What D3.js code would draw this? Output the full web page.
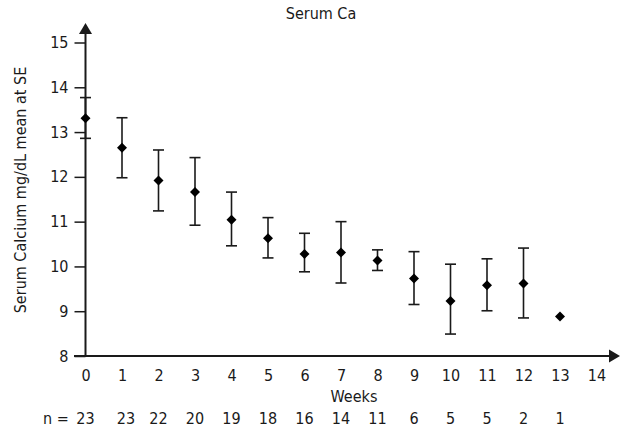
<!DOCTYPE html>
<html>
<head>
<meta charset="utf-8">
<script src="https://cdn.jsdelivr.net/npm/d3@7"></script>
<style>
  body { margin: 0; background: #fff; }
  svg text { font-family: "Liberation Sans Narrow", "DejaVu Sans Condensed", sans-serif; fill: #1a1a1a; }
</style>
</head>
<body>
<svg id="chart"></svg>
<script>
// weeks, mean serum Ca and the ends of the SE bars
const weeks = [0, 1, 2, 3, 4, 5, 6, 7, 8, 9, 10, 11, 12, 13];
const means = [13.31, 12.65, 11.92, 11.66, 11.04, 10.63, 10.28, 10.31, 10.13, 9.73, 9.23, 9.58, 9.62, 8.88];
const upper = [13.77, 13.32, 12.60, 12.43, 11.66, 11.09, 10.74, 11.00, 10.37, 10.33, 10.05, 10.17, 10.41, null];
const lower = [12.86, 11.98, 11.24, 10.92, 10.46, 10.19, 9.88, 9.63, 9.91, 9.15, 8.49, 9.01, 8.85, null];
const nCounts = [23, 23, 22, 20, 19, 18, 16, 14, 11, 6, 5, 5, 2, 1];
const xTicks = [0, 1, 2, 3, 4, 5, 6, 7, 8, 9, 10, 11, 12, 13, 14];
const yTicks = [8, 9, 10, 11, 12, 13, 14, 15];

const width = 620;
const height = 427;
const ink = '#1a1a1a';

const svg = d3.select('#chart')
    .attr('width', width)
    .attr('height', height);

const x = d3.scaleLinear().domain([0, 14]).range([85.5, 596.5]);
const y = d3.scaleLinear().domain([8, 15]).range([356, 42.5]);

// y axis
const yAxis = svg.append('g')
    .attr('transform', 'translate(' + x(0) + ',0)')
    .call(d3.axisLeft(y).tickValues(yTicks).tickFormat(d3.format('d'))
        .tickSize(11).tickSizeOuter(0).tickPadding(6));
yAxis.select('.domain').remove();
yAxis.selectAll('line').attr('stroke', ink).attr('stroke-width', 1.5);
yAxis.selectAll('text').style('font-size', '16px');

// x axis, labels only
const xAxis = svg.append('g')
    .attr('transform', 'translate(0,' + y(8) + ')')
    .call(d3.axisBottom(x).tickValues(xTicks).tickSize(0).tickPadding(14));
xAxis.select('.domain').remove();
xAxis.selectAll('text').style('font-size', '16px');

// axis lines with arrow heads
svg.append('line')
    .attr('x1', x(0)).attr('y1', y(8))
    .attr('x2', x(0)).attr('y2', 34)
    .attr('stroke', ink).attr('stroke-width', 2);
svg.append('path')
    .attr('d', d3.line()([[x(0) - 6.5, 34], [x(0), 23], [x(0) + 6.5, 34]]))
    .attr('fill', ink);
svg.append('line')
    .attr('x1', 74).attr('y1', y(8))
    .attr('x2', 610).attr('y2', y(8))
    .attr('stroke', ink).attr('stroke-width', 2);
svg.append('path')
    .attr('d', d3.line()([[609, y(8) - 6.5], [620, y(8)], [609, y(8) + 6.5]]))
    .attr('fill', ink);

// error bars
const bars = weeks.map((w, i) => ({w: w, hi: upper[i], lo: lower[i]}))
    .filter((d) => d.hi !== null);
const eb = svg.append('g').attr('stroke', ink).attr('stroke-width', 1.6);
eb.selectAll('.stem')
    .data(bars)
    .enter().append('line')
    .attr('x1', (d) => x(d.w)).attr('x2', (d) => x(d.w))
    .attr('y1', (d) => y(d.hi)).attr('y2', (d) => y(d.lo));
eb.selectAll('.capHi')
    .data(bars)
    .enter().append('line')
    .attr('x1', (d) => x(d.w) - 5.5).attr('x2', (d) => x(d.w) + 5.5)
    .attr('y1', (d) => y(d.hi)).attr('y2', (d) => y(d.hi));
eb.selectAll('.capLo')
    .data(bars)
    .enter().append('line')
    .attr('x1', (d) => x(d.w) - 5.5).attr('x2', (d) => x(d.w) + 5.5)
    .attr('y1', (d) => y(d.lo)).attr('y2', (d) => y(d.lo));

// mean markers
svg.selectAll('.pt')
    .data(weeks)
    .enter().append('path')
    .attr('class', 'pt')
    .attr('d', d3.symbol(d3.symbolDiamond2, 64))
    .attr('transform', (w, i) => 'translate(' + x(w) + ',' + y(means[i]) + ')')
    .attr('fill', '#000');

// titles
svg.append('text')
    .attr('x', 321).attr('y', 19)
    .attr('text-anchor', 'middle')
    .style('font-size', '16px')
    .text('Serum Ca');
svg.append('text')
    .attr('x', 354).attr('y', 402)
    .attr('text-anchor', 'middle')
    .style('font-size', '16px')
    .text('Weeks');
svg.append('text')
    .attr('transform', 'translate(26,190) rotate(-90)')
    .attr('text-anchor', 'middle')
    .style('font-size', '16px')
    .text('Serum Calcium mg/dL mean at SE');

// n per week
svg.append('text')
    .attr('x', 43).attr('y', 424)
    .style('font-size', '16px')
    .text('n =');
svg.selectAll('.n')
    .data(nCounts)
    .enter().append('text')
    .attr('class', 'n')
    .attr('x', (n, i) => x(weeks[i]) + (i === 1 ? 4 : 0))
    .attr('y', 424)
    .attr('text-anchor', 'middle')
    .style('font-size', '16px')
    .text((n) => n);
</script>
</body>
</html>
